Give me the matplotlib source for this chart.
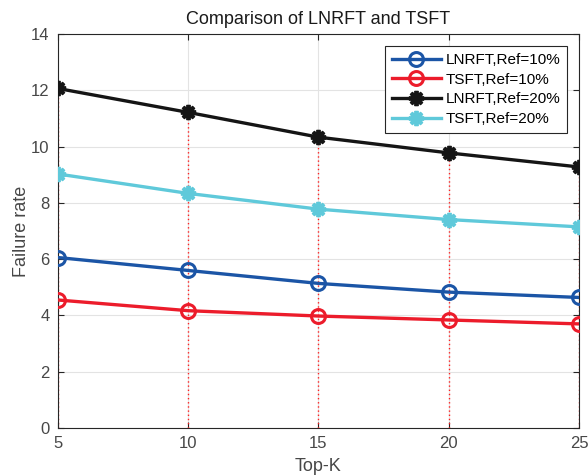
import matplotlib
matplotlib.use("Agg")
import matplotlib.pyplot as plt

top_k = [5, 10, 15, 20, 25]
lnrft_10 = [6.06, 5.60, 5.14, 4.83, 4.64]
tsft_10 = [4.55, 4.17, 3.98, 3.84, 3.70]
lnrft_20 = [12.07, 11.22, 10.34, 9.78, 9.28]
tsft_20 = [9.03, 8.34, 7.78, 7.41, 7.15]
labels = ["LNRFT,Ref=10%", "TSFT,Ref=10%", "LNRFT,Ref=20%", "TSFT,Ref=20%"]
yticks = [0, 2, 4, 6, 8, 10, 12, 14]
xticks = [5, 10, 15, 20, 25]

plt.rcParams['font.family'] = ['Liberation Sans', 'DejaVu Sans']

fig = plt.figure(figsize=(5.88, 4.75), dpi=100)
ax = fig.add_axes([0.0986, 0.099, 0.886, 0.829])

ax.vlines(top_k, 0, lnrft_20, colors='#ff2020', linestyles=(0, (1, 2)), linewidth=1.0, zorder=1)

lw = 2.4
ax.plot(top_k, lnrft_10, color='#1b55a6', lw=lw, marker='o', ms=10, mfc='none', mew=2.2, label=labels[0], zorder=3)
ax.plot(top_k, tsft_10, color='#ec1c2b', lw=lw, marker='o', ms=10, mfc='none', mew=2.2, label=labels[1], zorder=3)
ax.plot(top_k, lnrft_20, color='#151515', lw=lw, marker=(8, 2, 0), ms=11, mew=2.8, label=labels[2], zorder=3)
ax.plot(top_k, tsft_20, color='#5fc9da', lw=lw, marker=(8, 2, 0), ms=11, mew=2.8, label=labels[3], zorder=3)

ax.set_xlim(5, 25)
ax.set_ylim(0, 14)
ax.set_xticks(xticks)
ax.set_yticks(yticks)
ax.grid(True, color='#e3e3e3', linewidth=0.8)
ax.set_axisbelow(True)
for s in ax.spines.values():
    s.set_color('#262626')
    s.set_linewidth(0.8)
ax.tick_params(direction='in', length=4, color='#262626', labelsize=12, labelcolor='#474747',
               top=True, right=True, pad=6)
ax.set_xlabel('Top-K', fontsize=13, color='#474747', labelpad=5)
ax.set_ylabel('Failure rate', fontsize=13, color='#474747', labelpad=1)
ax.set_title('Comparison of LNRFT and TSFT', fontsize=13, color='#1a1a1a', pad=7)

leg = ax.legend(loc='upper right', bbox_to_anchor=(0.977, 0.97), fontsize=11, fancybox=False,
                edgecolor='#262626', framealpha=1, handlelength=3.2, borderpad=0.45,
                labelspacing=0.38, handletextpad=0.3, borderaxespad=0)
leg.get_frame().set_linewidth(0.8)

fig.savefig('out.png', dpi=100)
